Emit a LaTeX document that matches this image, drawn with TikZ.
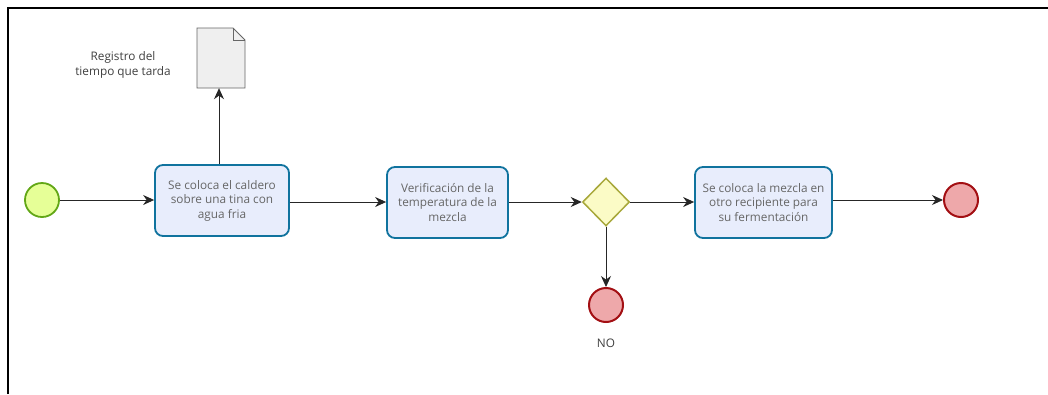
\documentclass[tikz,border=0pt]{standalone}
\usepackage{fontspec}
\setmainfont{Open Sans}
\usetikzlibrary{shapes.geometric,arrows.meta}
\definecolor{taskfill}{HTML}{E8EDFC}
\definecolor{taskline}{HTML}{10739E}
\definecolor{startfill}{HTML}{E6FF97}
\definecolor{startline}{HTML}{62A716}
\definecolor{endfill}{HTML}{EEA8AA}
\definecolor{endline}{HTML}{A30F13}
\definecolor{gwfill}{HTML}{FBFBC6}
\definecolor{gwline}{HTML}{A8A83B}
\definecolor{docfill}{HTML}{EFEFEF}
\definecolor{txt}{HTML}{666666}
\tikzset{
  x=1pt, y=-1pt,
  task/.style={draw=taskline, fill=taskfill, line width=1.8pt, rounded corners=8pt,
    minimum width=#1, minimum height=71pt, align=center, text=txt,
    font=\fontsize{11.8}{14.5}\selectfont, inner sep=2pt},
  startev/.style={circle, draw=startline, fill=startfill, line width=1.8pt, minimum size=34pt, inner sep=0pt},
  endev/.style={circle, draw=endline, fill=endfill, line width=2pt, minimum size=34pt, inner sep=0pt},
  gateway/.style={diamond, draw=gwline, fill=gwfill, line width=1.5pt, minimum width=47pt, minimum height=48pt, inner sep=0pt},
  flow/.style={draw=black!85, line width=0.9pt, -{Stealth[length=11pt,width=10pt]}},
  lbl/.style={text=black!75, font=\fontsize{11.8}{14.5}\selectfont, align=center},
}
\begin{document}
\begin{tikzpicture}
\useasboundingbox (0,0) rectangle (1048,394);
\fill[white] (0,0) rectangle (1048,394);
% frame
\draw[line width=1.6pt] (8,394) -- (8,8) -- (1048,8);

% nodes
\node[startev] (start) at (42,200) {};
\node[task=134pt] (t1) at (222,200.5) {Se coloca el caldero\\sobre una tina con\\agua fria};
\node[task=121pt] (t2) at (447.5,202.5) {Verificación de la\\temperatura de la\\mezcla};
\node[gateway] (gw) at (606,202) {};
\node[task=137pt] (t3) at (763.5,202.5) {Se coloca la mezcla en\\otro recipiente para\\su fermentación};
\node[endev] (end1) at (961,200) {};
\node[endev] (end2) at (606,305) {};
\node[lbl] (nolbl) at (606,343) {NO};

% data object
\draw[draw=black!60, fill=docfill, line width=0.8pt]
  (197,28) -- (233,28) -- (245,40) -- (245,88) -- (197,88) -- cycle;
\draw[draw=black!60, line width=0.8pt] (233,28) -- (233,40) -- (245,40);
\node[inner sep=0pt, minimum width=48pt, minimum height=60pt] (docn) at (221,58) {};
\node[lbl] (doclbl) at (123,65) {Registro del\\tiempo que tarda};

% flows
\draw[flow] (start) -- (t1.west |- start);
\draw[flow] (t1.east |- 0,202) -- (t2.west |- 0,202);
\draw[flow] (t2.east |- 0,202) -- (gw.west);
\draw[flow] (gw.east) -- (t3.west |- gw.east);
\draw[flow] (t3.east |- end1) -- (end1);
\draw[flow] (gw.south) -- (end2);
\draw[flow] (t1.north -| 219,0) -- (docn.south -| 219,0);
\end{tikzpicture}
\end{document}
